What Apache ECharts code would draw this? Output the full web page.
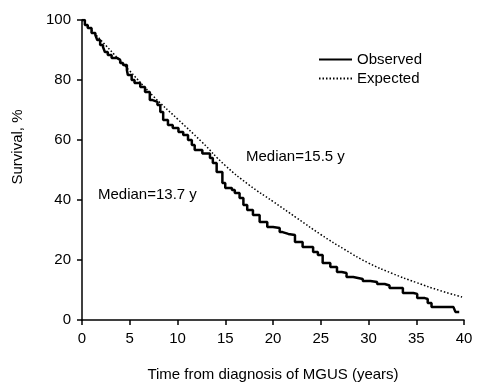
<!DOCTYPE html>
<html><head><meta charset="utf-8">
<script src="https://cdn.jsdelivr.net/npm/echarts@6/dist/echarts.min.js"></script>
<style>html,body{margin:0;padding:0;background:#fff}#c{width:485px;height:392px}</style>
</head><body><div id="c"></div>
<script>
var FONT = '"Liberation Sans Narrow","Arial Narrow","Liberation Sans",Arial,sans-serif';
var xTicks = [0,5,10,15,20,25,30,35,40];
var yTicks = [0,20,40,60,80,100];
var observedT = [0,0.3,0.6,1.0,1.4,1.6,1.9,2.2,2.4,2.7,3.1,3.7,4.0,4.3,4.7,4.8,5.2,5.5,6.1,6.6,7.1,7.4,7.9,8.2,8.5,9.0,9.5,10.1,10.6,11.1,11.5,11.8,12.6,13.4,13.7,14.1,14.7,15.0,15.7,16.0,16.5,16.9,17.3,17.9,18.6,19.4,20.0,20.7,21.0,21.6,22.3,23.1,24.2,24.7,25.2,26.0,26.7,27.2,27.7,28.4,29.4,30.2,30.9,31.7,32.2,33.6,34.7,35.1,35.9,36.2,36.6,38.9,39.1,39.5];
var observedS = [100,98.3,97.3,95.7,95,93.3,91.7,91,89.3,88.3,87.3,86.7,85.7,85,83.3,81.7,80,79,77.7,76,73.3,72.7,71.7,69.3,66.7,65,64,62.7,61.7,60,58.3,56.7,55.5,54,52.3,49.3,45.7,44,43.3,42.3,40.7,38.3,36.7,35,32.7,31,30.7,29.3,28.7,28.3,26,24.3,22.7,21.7,19,17.7,16,15.7,14.3,13.7,13,12.7,12,11.5,10.7,9,8.7,7.3,7,5.7,4.3,4.3,2.7,2.7];
var expectedT = [0,2.5,5,7.5,10,12.5,15,17.5,20,22.5,25,27.5,30,32.5,35,37.5,40];
var expectedS = [100,91.5,83,74.5,67,59.5,51.5,45,39.5,34,28.5,23.5,19,15.5,12.5,9.8,7.5];
var seriesNames = ['Observed','Expected'];
var annotations = ['Median=15.5 y','Median=13.7 y'];

function pairs(a,b){return a.map(function(v,i){return [v,b[i]];});}
var chart = echarts.init(document.getElementById('c'), null, {renderer:'canvas'});
chart.setOption({
  animation:false,
  backgroundColor:'#fff',
  grid:{left:82,right:21,top:20,bottom:72,containLabel:false},
  legend:{
    orient:'vertical', left:313, top:47, itemWidth:33, itemHeight:10, itemGap:4,
    textStyle:{fontFamily:FONT,fontSize:15,color:'#000'},
    itemStyle:{opacity:0},
    data:seriesNames
  },
  xAxis:{
    type:'value', min:0, max:40, interval:5,
    name:'Time from diagnosis of MGUS (years)', nameLocation:'middle', nameGap:47,
    nameTextStyle:{fontFamily:FONT,fontSize:15,color:'#000'},
    axisLine:{show:true,lineStyle:{color:'#000',width:1.5}},
    axisTick:{show:true,length:5,lineStyle:{color:'#000',width:1.5}},
    axisLabel:{fontFamily:FONT,fontSize:15,color:'#000',margin:11},
    splitLine:{show:false}
  },
  yAxis:{
    type:'value', min:0, max:100, interval:20,
    axisLine:{show:true,lineStyle:{color:'#000',width:1.5}},
    axisTick:{show:true,length:5,lineStyle:{color:'#000',width:1.5}},
    axisLabel:{fontFamily:FONT,fontSize:15,color:'#000',margin:11},
    splitLine:{show:false}
  },
  graphic:[
    {type:'text', x:18, y:147, rotation:Math.PI/2, style:{text:'Survival, %', font:'15px '+FONT, fill:'#000', align:'center', verticalAlign:'middle'}},
    {type:'text', left:246, top:149, style:{text:annotations[0], font:'15px '+FONT, fill:'#000'}},
    {type:'text', left:98, top:187, style:{text:annotations[1], font:'15px '+FONT, fill:'#000'}}
  ],
  series:[
    {name:seriesNames[0], type:'line', step:'end', symbol:'none', data:pairs(observedT,observedS),
     lineStyle:{color:'#000',width:2.5}, itemStyle:{color:'#000'}},
    {name:seriesNames[1], type:'line', smooth:true, symbol:'none', data:pairs(expectedT,expectedS),
     lineStyle:{color:'#000',width:1.5,type:[1.5,2]}, itemStyle:{color:'#000'}}
  ]
});
</script></body></html>
